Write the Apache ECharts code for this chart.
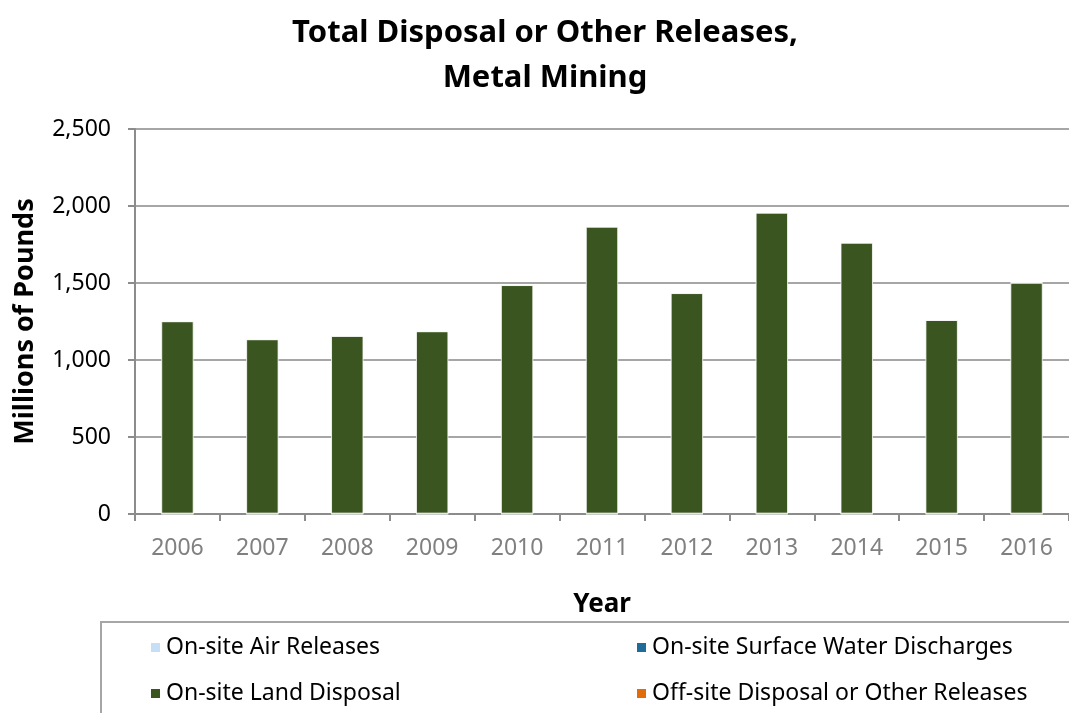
<!DOCTYPE html>
<html>
<head>
<meta charset="utf-8">
<script src="https://cdn.jsdelivr.net/npm/echarts@6/dist/echarts.min.js"></script>
<style>
  html, body { margin: 0; padding: 0; background: #fff; }
  #chart { width: 1069px; height: 713px; }
</style>
</head>
<body>
<div id="chart"></div>
<script>
// Reporting years
const years = ['2006', '2007', '2008', '2009', '2010', '2011', '2012', '2013', '2014', '2015', '2016'];

// Releases by type, millions of pounds
const airReleases = [2, 2, 2, 2, 2, 2, 2, 2, 2, 2, 2];
const waterDischarges = [1, 1, 1, 1, 1, 1, 1, 1, 1, 1, 1];
const landDisposal = [1248, 1131, 1153, 1183, 1483, 1862, 1431, 1953, 1758, 1256, 1498];
const offsiteReleases = [3, 3, 3, 3, 3, 3, 3, 3, 3, 3, 3];

// Value-axis ticks
const yTicks = [0, 500, 1000, 1500, 2000, 2500];

const FONT = 'Noto Sans';
const chart = echarts.init(document.getElementById('chart'));

function barSeries(name, data, color) {
  return {
    name: name,
    type: 'bar',
    stack: 'total',
    data: data,
    barWidth: '38%',
    itemStyle: { color: color, borderColor: '#ffffff', borderWidth: 0.8 },
    emphasis: { disabled: true }
  };
}

const legendText = { fontFamily: FONT, fontSize: 23, color: '#000' };

chart.setOption({
  animation: false,
  backgroundColor: '#ffffff',
  title: {
    text: 'Total Disposal or Other Releases,\nMetal Mining',
    left: 540,
    textAlign: 'center',
    top: 6,
    textStyle: { fontFamily: FONT, fontWeight: 'bold', fontSize: 31, lineHeight: 45, color: '#000' }
  },
  grid: { left: 135, top: 129, width: 946, height: 385, containLabel: false },
  xAxis: {
    type: 'category',
    data: years,
    boundaryGap: true,
    name: 'Year',
    nameLocation: 'middle',
    nameGap: 78,
    nameTextStyle: { fontFamily: FONT, fontWeight: 'bold', fontSize: 26, color: '#000' },
    axisLine: { lineStyle: { color: '#8c8c8c', width: 2 } },
    axisTick: { show: true, length: 7, lineStyle: { color: '#8c8c8c', width: 2 } },
    axisLabel: { fontFamily: FONT, fontSize: 23, color: '#808080', margin: 23 }
  },
  yAxis: {
    type: 'value',
    min: yTicks[0],
    max: yTicks[yTicks.length - 1],
    interval: 500,
    name: 'Millions of Pounds',
    nameLocation: 'middle',
    nameGap: 96,
    nameTextStyle: { fontFamily: FONT, fontWeight: 'bold', fontSize: 27, color: '#000' },
    axisLine: { show: true, lineStyle: { color: '#8c8c8c', width: 2 } },
    axisTick: { show: true, length: 7, lineStyle: { color: '#8c8c8c', width: 2 } },
    splitLine: { lineStyle: { color: '#a6a6a6', width: 2 } },
    axisLabel: {
      fontFamily: FONT, fontSize: 23, color: '#000', margin: 24,
      formatter: v => v.toLocaleString('en-US')
    }
  },
  legend: [
    {
      left: 144, top: 631, orient: 'vertical', itemGap: 23,
      itemWidth: 11, itemHeight: 11, icon: 'rect',
      textStyle: legendText,
      data: ['On-site Air Releases', 'On-site Land Disposal']
    },
    {
      left: 630, top: 631, orient: 'vertical', itemGap: 23,
      itemWidth: 11, itemHeight: 11, icon: 'rect',
      textStyle: legendText,
      data: ['On-site Surface Water Discharges', 'Off-site Disposal or Other Releases']
    }
  ],
  graphic: [{
    type: 'rect',
    silent: true,
    shape: { x: 101, y: 622, width: 1000, height: 120 },
    style: { fill: 'none', stroke: '#a6a6a6', lineWidth: 2 },
    z: -1
  }],
  series: [
    barSeries('On-site Air Releases', airReleases, '#c6dff7'),
    barSeries('On-site Surface Water Discharges', waterDischarges, '#1f6b9a'),
    barSeries('On-site Land Disposal', landDisposal, '#3a5520'),
    barSeries('Off-site Disposal or Other Releases', offsiteReleases, '#e36c0a')
  ]
});
</script>
</body>
</html>
